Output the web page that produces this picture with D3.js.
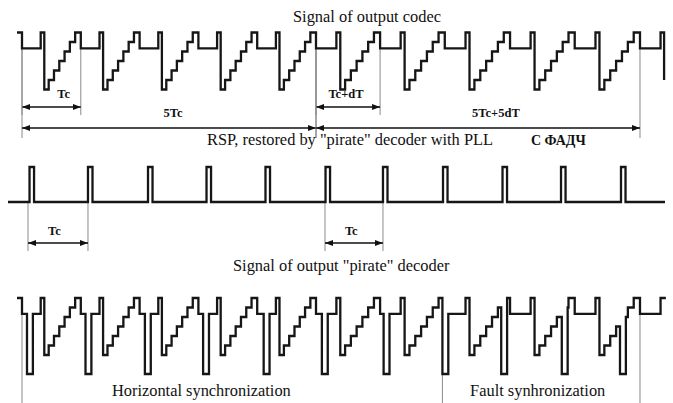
<!DOCTYPE html>
<html>
<head>
<meta charset="utf-8">
<script src="https://cdn.jsdelivr.net/npm/d3@7"></script>
<style>
body { margin: 0; background: #fff; }
svg { display: block; background: #fff; }
text { font-family: "Liberation Serif", "Times New Roman", serif; fill: #111; }
.title { font-size: 16.4px; }
.lbl { font-size: 12.5px; font-weight: bold; }
.wave { fill: none; stroke: #161616; stroke-width: 2.3; stroke-linejoin: miter; }
.mark { stroke: #8a8a8a; stroke-width: 1; }
.arrow { stroke: #111; stroke-width: 1.4; }
</style>
</head>
<body>
<svg id="chart" width="673" height="403"></svg>
<script>
// all times are in units of Tc (one codec line period)

// codec: times where the staircase top falls back to the blank level
const codecStarts = [0, 1, 2, 3, 4, 5, 6.09, 7.19, 8.3, 9.4, 10.51];
const codecBegin = -0.085;
const codecEnd = 10.92;
// one line of the codec signal: time as fraction of the period, level after it
const lineTimes = [0, 0.318, 0.379, 0.454, 0.544, 0.634, 0.724, 0.814, 0.904];
const lineLevels = [0.72, 1, 0, 1 / 6, 2 / 6, 3 / 6, 4 / 6, 5 / 6, 1];

// RSP pulses restored by the pirate decoder
const rspPulses = [0.128, 1.122, 2.143, 3.138, 4.141, 5.162, 6.139, 7.16, 8.172, 9.167, 10.187];
const rspWidth = 0.077;
const rspBegin = -0.238;
const rspEnd = 10.935;

// sync pulses that the pirate decoder puts into the signal
const pirateSyncs = [0.085, 1.08, 2.09, 3.08, 4.11, 5.1, 6.15, 7.15, 8.15, 9.18, 10.17];
const pirateSyncWidth = 0.1;
const pirateSyncLevel = -1 / 3;
const pirateEnd = 10.95;

const codecSpans = [
    {from: 0, to: 1, label: "Tc", labelT: 0.71, row: 0},
    {from: 0, to: 5, label: "5Tc", labelT: 2.57, row: 1},
    {from: 5, to: 6.09, label: "Tc+dT", labelT: 5.51, row: 0},
    {from: 5, to: 10.51, label: "5Tc+5dT", labelT: 8.06, row: 1}
];
const rspSpans = [
    {from: 0.102, to: 1.122, label: "Tc", labelT: 0.55},
    {from: 5.153, to: 6.139, label: "Tc", labelT: 5.6}
];
const pirateRegions = [
    {from: 0, to: 7.15, label: "Horizontal synchronization", labelT: 3.05},
    {from: 7.15, to: 10.51, label: "Fault synhronization", labelT: 8.77}
];

const svg = d3.select("#chart");

const x = d3.scaleLinear().domain([0, 5]).range([22, 316]);
const yCodec = d3.scaleLinear().domain([0, 1]).range([89.5, 32.5]);
const yRsp = d3.scaleLinear().domain([0, 1]).range([202, 167]);
const yPirate = d3.scaleLinear().domain([0, 1]).range([355, 298]);

// ---- build the step signals ----
let codecPts = [{t: codecBegin, v: 1}];
codecStarts.forEach((s, i) => {
    let period = i < codecStarts.length - 1 ? codecStarts[i + 1] - s : 1.1;
    lineTimes.forEach((f, j) => {
        let t = s + f * period;
        if (t < codecEnd) codecPts.push({t: t, v: lineLevels[j]});
    });
});
codecPts.push({t: codecEnd, v: 1 / 6});

function valueAt(pts, t) {
    let v = pts[0].v;
    pts.forEach(p => { if (p.t <= t + 1e-9) v = p.v; });
    return v;
}

let piratePts = codecPts.slice(0, -1).filter(p =>
    !pirateSyncs.some(s => p.t >= s && p.t <= s + pirateSyncWidth));
pirateSyncs.forEach(s => {
    piratePts.push({t: s, v: pirateSyncLevel});
    piratePts.push({t: s + pirateSyncWidth, v: valueAt(codecPts, s + pirateSyncWidth)});
});
piratePts.sort((a, b) => a.t - b.t);
piratePts.push({t: pirateEnd, v: 1});

let rspPts = [{t: rspBegin, v: 0}];
rspPulses.forEach(s => {
    rspPts.push({t: s, v: 1});
    rspPts.push({t: s + rspWidth, v: 0});
});
rspPts.push({t: rspEnd, v: 0});

// ---- arrow heads ----
let defs = svg.append("defs");
[["arrEnd", "M0,0 L8,3 L0,6 Z"], ["arrStart", "M8,0 L0,3 L8,6 Z"]].forEach(m => {
    defs.append("marker")
        .attr("id", m[0])
        .attr("viewBox", "0 0 8 6")
        .attr("refX", m[0] === "arrEnd" ? 8 : 0)
        .attr("refY", 3)
        .attr("markerWidth", 8)
        .attr("markerHeight", 6)
        .attr("markerUnits", "userSpaceOnUse")
        .attr("orient", "auto")
        .append("path")
        .attr("d", m[1])
        .attr("fill", "#111");
});

function drawSpan(g, sp, arrowY, lineTop, lineBottom, labelY) {
    [sp.from, sp.to].forEach(t => {
        g.append("line").attr("class", "mark")
            .attr("x1", x(t)).attr("x2", x(t))
            .attr("y1", lineTop).attr("y2", lineBottom);
    });
    g.append("line").attr("class", "arrow")
        .attr("x1", x(sp.from)).attr("x2", x(sp.to))
        .attr("y1", arrowY).attr("y2", arrowY)
        .attr("marker-start", "url(#arrStart)")
        .attr("marker-end", "url(#arrEnd)");
    g.append("text").attr("class", "lbl")
        .attr("x", x(sp.labelT)).attr("y", labelY)
        .attr("text-anchor", "middle")
        .text(sp.label);
}

// ---- codec ----
let gCodec = svg.append("g");
codecSpans.forEach(sp => {
    let ay = sp.row === 0 ? 107 : 128;
    drawSpan(gCodec, sp, ay, yCodec(0.72), ay + (sp.row === 0 ? 8 : 10), ay - (sp.row === 0 ? 9 : 11));
});
gCodec.append("path").attr("class", "wave")
    .attr("d", d3.line().x(d => x(d.t)).y(d => yCodec(d.v)).curve(d3.curveStepAfter)(codecPts));
gCodec.append("text").attr("class", "title")
    .attr("x", 293).attr("y", 22)
    .text("Signal of output codec");

// ---- RSP ----
let gRsp = svg.append("g");
gRsp.append("text").attr("class", "title")
    .attr("x", 207).attr("y", 145)
    .text("RSP, restored by \"pirate\" decoder with PLL");
gRsp.append("text").attr("class", "lbl")
    .style("font-size", "14px")
    .attr("x", 531).attr("y", 145)
    .text("С ФАДЧ");
rspSpans.forEach(sp => drawSpan(gRsp, sp, 243, yRsp(0), 251, 235));
gRsp.append("path").attr("class", "wave")
    .attr("d", d3.line().x(d => x(d.t)).y(d => yRsp(d.v)).curve(d3.curveStepAfter)(rspPts));

// ---- pirate decoder output ----
let gPirate = svg.append("g");
gPirate.append("text").attr("class", "title")
    .attr("x", 233).attr("y", 271)
    .text("Signal of output \"pirate\" decoder");
pirateRegions.forEach(r => {
    gPirate.append("line").attr("class", "mark")
        .attr("x1", x(r.from)).attr("x2", x(r.from))
        .attr("y1", yPirate(valueAt(piratePts, r.from))).attr("y2", 403);
    gPirate.append("text").attr("class", "title")
        .attr("x", x(r.labelT)).attr("y", 396)
        .attr("text-anchor", "middle")
        .text(r.label);
});
let lastR = pirateRegions[pirateRegions.length - 1];
gPirate.append("line").attr("class", "mark")
    .attr("x1", x(lastR.to)).attr("x2", x(lastR.to))
    .attr("y1", yPirate(valueAt(piratePts, lastR.to))).attr("y2", 403);
gPirate.append("path").attr("class", "wave")
    .attr("d", d3.line().x(d => x(d.t)).y(d => yPirate(d.v)).curve(d3.curveStepAfter)(piratePts));
</script>
</body>
</html>
